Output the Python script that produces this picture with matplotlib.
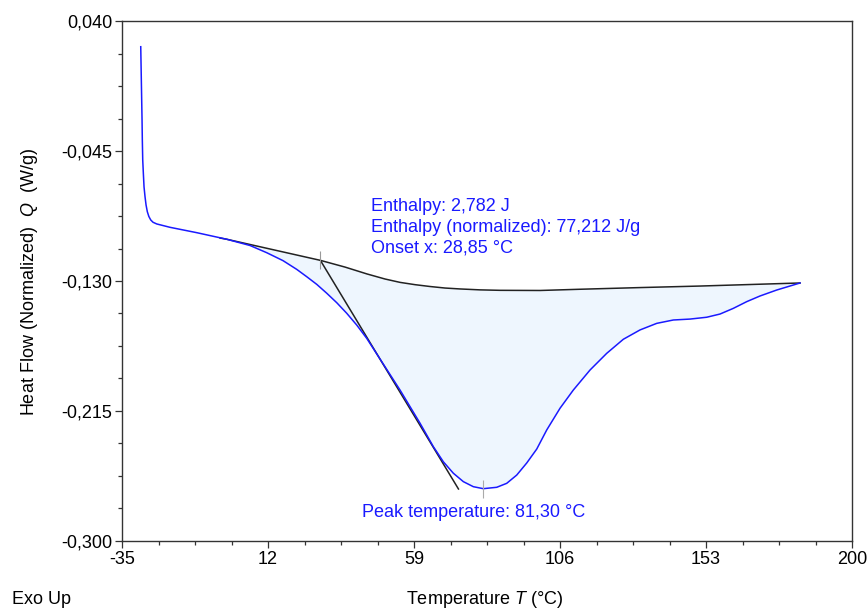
import numpy as np
import matplotlib
matplotlib.use("Agg")
import matplotlib.pyplot as plt
from matplotlib.ticker import AutoMinorLocator, FuncFormatter

plt.rcParams['font.family'] = ['Liberation Sans', 'DejaVu Sans']
plt.rcParams['mathtext.fontset'] = 'custom'
plt.rcParams['mathtext.it'] = 'Liberation Sans:italic'
plt.rcParams['mathtext.rm'] = 'Liberation Sans'

# DSC curve
temp = [-28.98, -28.79, -28.56, -28.47, -28.34, -28.14, -27.92, -27.60, -27.27,
        -26.86, -26.37, -25.76, -25.02, -23.83, -19.55, -10.95, -1.30, 6.21,
        11.58, 16.83, 21.24, 24.46, 27.68, 30.90, 34.12, 37.33, 40.55, 43.77,
        48.05, 54.49, 60.93, 65.21, 68.43, 71.65, 74.87, 78.09, 81.30, 85.62,
        88.84, 92.06, 95.28, 98.50, 101.72, 106.00, 110.28, 115.66, 121.03,
        126.38, 131.75, 137.13, 142.47, 147.85, 153.22, 157.51, 161.78, 166.10,
        170.38, 175.76, 183.26]
heat_flow = [0.0232, 0.0014, -0.0247, -0.0378, -0.0509, -0.0596, -0.0685, -0.0749,
             -0.0803, -0.0847, -0.0878, -0.0901, -0.0916, -0.0927, -0.0949, -0.0984,
             -0.1027, -0.1068, -0.1115, -0.1167, -0.1224, -0.1272, -0.1322, -0.1380,
             -0.1442, -0.1511, -0.1588, -0.1675, -0.1810, -0.2013, -0.2230, -0.2383,
             -0.2482, -0.2557, -0.2612, -0.2645, -0.2658, -0.2649, -0.2623, -0.2569,
             -0.2490, -0.2399, -0.2274, -0.2132, -0.2013, -0.1882, -0.1773, -0.1681,
             -0.1620, -0.1577, -0.1555, -0.1549, -0.1537, -0.1516, -0.1479, -0.1435,
             -0.1398, -0.1359, -0.1313]

# integration baseline
base_temp = [-3.45, -1.30, 28.85, 36.79, 43.87, 49.66, 54.49, 59.32, 64.15, 68.98,
             73.81, 80.25, 86.69, 99.56, 112.44, 131.75, 151.07, 167.16, 183.26]
base_flow = [-0.1019, -0.1027, -0.1165, -0.1209, -0.1254, -0.1287, -0.1309, -0.1324,
             -0.1336, -0.1346, -0.1352, -0.1358, -0.1361, -0.1362, -0.1354, -0.1343,
             -0.1333, -0.1323, -0.1313]

onset = (28.85, -0.1165)
tangent_end = (73.3, -0.2660)
peak = (81.30, -0.2658)

x_ticks = [-35, 12, 59, 106, 153, 200]
y_ticks = [0.040, -0.045, -0.130, -0.215, -0.300]

info_lines = ["Enthalpy: 2,782 J", "Enthalpy (normalized): 77,212 J/g", "Onset x: 28,85 °C"]
peak_label = "Peak temperature: 81,30 °C"

fig = plt.figure(figsize=(8.68, 6.11), dpi=100)
ax = fig.add_axes([0.1406, 0.1146, 0.8410, 0.8510])

# shaded peak area: curve from the split point, back along the baseline
split = temp.index(-1.30)
poly_x = temp[split:] + base_temp[::-1][:-1]
poly_y = heat_flow[split:] + base_flow[::-1][:-1]
ax.fill(poly_x, poly_y, color='#eef6fe', lw=0, zorder=1)

ax.plot(base_temp, base_flow, color='#222222', lw=1.1, zorder=2)
ax.plot([onset[0], tangent_end[0]], [onset[1], tangent_end[1]], color='#222222', lw=1.1, zorder=2)
ax.plot(temp, heat_flow, color='#1a1aff', lw=1.1, zorder=3)

ax.plot([onset[0]], [onset[1]], marker='|', ms=13, mew=0.8, color='#999999', zorder=4)
ax.plot([peak[0]], [peak[1]], marker='|', ms=13, mew=0.8, color='#aaaaaa', zorder=4)

for i, line in enumerate(info_lines):
    ax.text(45.06, -0.0810 - i * 0.01385, line, color='#1a1aff', fontsize=13,
            ha='left', va='center')
ax.text(42.26, -0.2817, peak_label, color='#1a1aff', fontsize=13, ha='left', va='center')

ax.set_xlim(-35, 200)
ax.set_ylim(-0.300, 0.040)
ax.set_xticks(x_ticks)
ax.set_yticks(y_ticks)
ax.xaxis.set_minor_locator(AutoMinorLocator(4))
ax.yaxis.set_minor_locator(AutoMinorLocator(4))
ax.yaxis.set_major_formatter(FuncFormatter(lambda v, p: f"{v:.3f}".replace('.', ',')))
ax.xaxis.set_major_formatter(FuncFormatter(lambda v, p: f"{v:.0f}"))
ax.tick_params(which='major', direction='out', length=5, width=0.9, labelsize=13, pad=2, color='#333333')
ax.tick_params(which='minor', direction='out', length=3, width=0.9, color='#333333')
for s in ax.spines.values():
    s.set_color('#333333')
    s.set_linewidth(1.0)

fig.text(30 / 868, 1 - 282 / 611, r"Heat Flow (Normalized)  $Q$  (W/g)", rotation=90,
         fontsize=13, ha='center', va='center')
fig.text(485 / 868, 1 - 600 / 611, r"Temperature $T$ (°C)", fontsize=13, ha='center', va='center')
fig.text(12 / 868, 1 - 600 / 611, "Exo Up", fontsize=13, ha='left', va='center')

fig.savefig("out.png", dpi=100)
